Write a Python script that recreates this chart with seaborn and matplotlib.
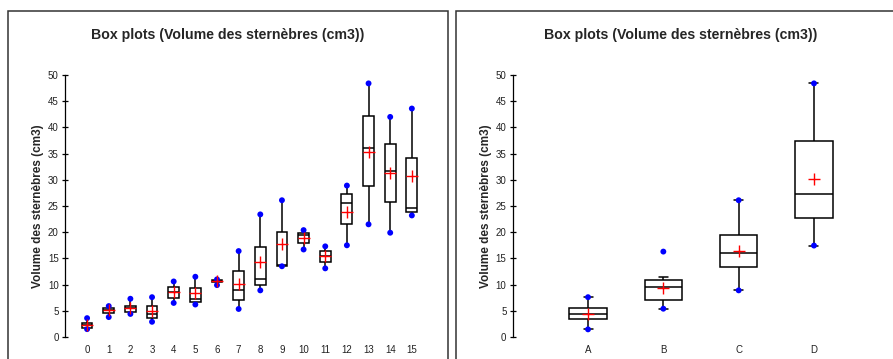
import numpy as np
import pandas as pd
import matplotlib.pyplot as plt
from matplotlib.patches import Rectangle
import seaborn as sns

# --- Données (Volume des sternèbres, cm3) ---

# Panneau gauche : groupes 0..15
groupes = [str(i) for i in range(16)]
g_min = [1.5, 3.8, 4.4, 2.9, 6.5, 6.2, 9.9, 5.35, 8.9, 13.5, 16.7, 13.1, 17.5, 21.5, 19.9, 23.2]
g_q1 = [1.65, 4.6, 4.7, 3.6, 7.5, 6.75, 10.45, 7.1, 9.9, 13.6, 18.0, 14.3, 21.6, 28.85, 25.8, 23.9]
g_med = [2.2, 5.1, 5.5, 4.3, 8.6, 7.3, 10.6, 8.9, 11.0, 13.7, 19.4, 15.4, 25.5, 36.1, 31.7, 24.6]
g_q3 = [2.7, 5.6, 5.9, 5.9, 9.6, 9.4, 10.9, 12.6, 17.1, 20.0, 19.9, 16.4, 27.2, 42.2, 36.8, 34.2]
g_max = [3.6, 5.9, 7.3, 7.6, 10.6, 11.5, 11.0, 16.4, 23.4, 26.1, 20.4, 17.3, 28.9, 48.4, 42.0, 43.6]
g_moy = [2.2, 5.1, 5.6, 4.9, 8.5, 8.4, 10.7, 10.1, 14.3, 17.7, 18.9, 15.4, 23.9, 35.4, 31.3, 30.7]

# Panneau droit : classes A..D
classes = ['A', 'B', 'C', 'D']
c_min = [1.46, 5.4, 8.9, 17.45]
c_q1 = [3.4, 7.1, 13.4, 22.8]
c_med = [4.4, 9.5, 16.1, 27.2]
c_q3 = [5.6, 10.8, 19.5, 37.4]
c_moust = [7.6, 11.4, 26.1, 48.4]   # fin de moustache haute
c_max = [7.6, 16.3, 26.1, 48.4]
c_moy = [4.4, 9.4, 16.5, 30.2]

TITRE = 'Box plots (Volume des sternèbres (cm3))'
YLABEL = 'Volume des sternèbres (cm3)'

sns.set_theme(style='white')
plt.rcParams['font.family'] = ['Liberation Sans', 'DejaVu Sans']

W, H = 893, 359
fig = plt.figure(figsize=(W / 100, H / 100), dpi=100)


def panneau(ax, cats, bas, q1, med, q3, haut, mins, maxs, moy, xlim):
    # 5 valeurs par groupe -> les quartiles tombent exactement sur q1/med/q3
    df = pd.DataFrame({
        'groupe': np.repeat(cats, 5),
        'valeur': np.column_stack([bas, q1, med, q3, haut]).ravel(),
    })
    sns.boxplot(data=df, x='groupe', y='valeur', order=cats, whis=(0, 100),
                width=0.5, color='white', linecolor='black', linewidth=1.1,
                showfliers=False, capwidths=0.12, ax=ax)
    pos = np.arange(len(cats))
    sns.scatterplot(x=np.concatenate([pos, pos]), y=np.concatenate([mins, maxs]),
                    color='#0000ff', s=18, edgecolor='none', zorder=5, ax=ax)
    sns.scatterplot(x=pos, y=moy, marker='+', color='#ff0000', s=75,
                    linewidth=1.0, zorder=6, ax=ax)
    ax.set_xlim(*xlim)
    ax.set_ylim(0, 50)
    ax.set_yticks(range(0, 51, 5))
    ax.set_xlabel('')
    ax.set_ylabel(YLABEL, fontsize=8.5, fontweight='bold', labelpad=3)
    for s in ['top', 'right', 'bottom']:
        ax.spines[s].set_visible(False)
    ax.spines['left'].set_color('black')
    ax.spines['left'].set_linewidth(0.9)
    ax.tick_params(axis='y', direction='inout', length=5, width=0.9, color='black',
                   labelsize=7, labelcolor='#222222', pad=2, left=True)
    ax.tick_params(axis='x', length=0, labelsize=7, labelcolor='#222222', pad=6)
    ax.set_facecolor('none')


# axes gauche
ax1 = fig.add_axes([65 / W, (H - 337) / H, (440 - 65) / W, 262 / H])
panneau(ax1, groupes, g_min, g_q1, g_med, g_q3, g_max, g_min, g_max, g_moy,
        (-1.02, 16.3))

# axes droit
ax2 = fig.add_axes([512.7 / W, (H - 337) / H, (889.3 - 512.7) / W, 262 / H])
panneau(ax2, classes, c_min, c_q1, c_med, c_q3, c_moust, c_min, c_max, c_moy,
        (-1.0, 4.0))

# cadres des deux panneaux
fig.patches.append(Rectangle((8 / W, -0.2), 440 / W, (H - 11) / H + 0.2,
                             transform=fig.transFigure, fill=False,
                             ec='#333333', lw=1.1))
fig.patches.append(Rectangle((456 / W, -0.2), 450 / W, (H - 11) / H + 0.2,
                             transform=fig.transFigure, fill=False,
                             ec='#333333', lw=1.1))

fig.text(228 / W, 1 - 35 / H, TITRE, ha='center', va='center',
         fontsize=10.2, fontweight='bold')
fig.text(681 / W, 1 - 35 / H, TITRE, ha='center', va='center',
         fontsize=10.2, fontweight='bold')

fig.savefig('out.png', dpi=100)
